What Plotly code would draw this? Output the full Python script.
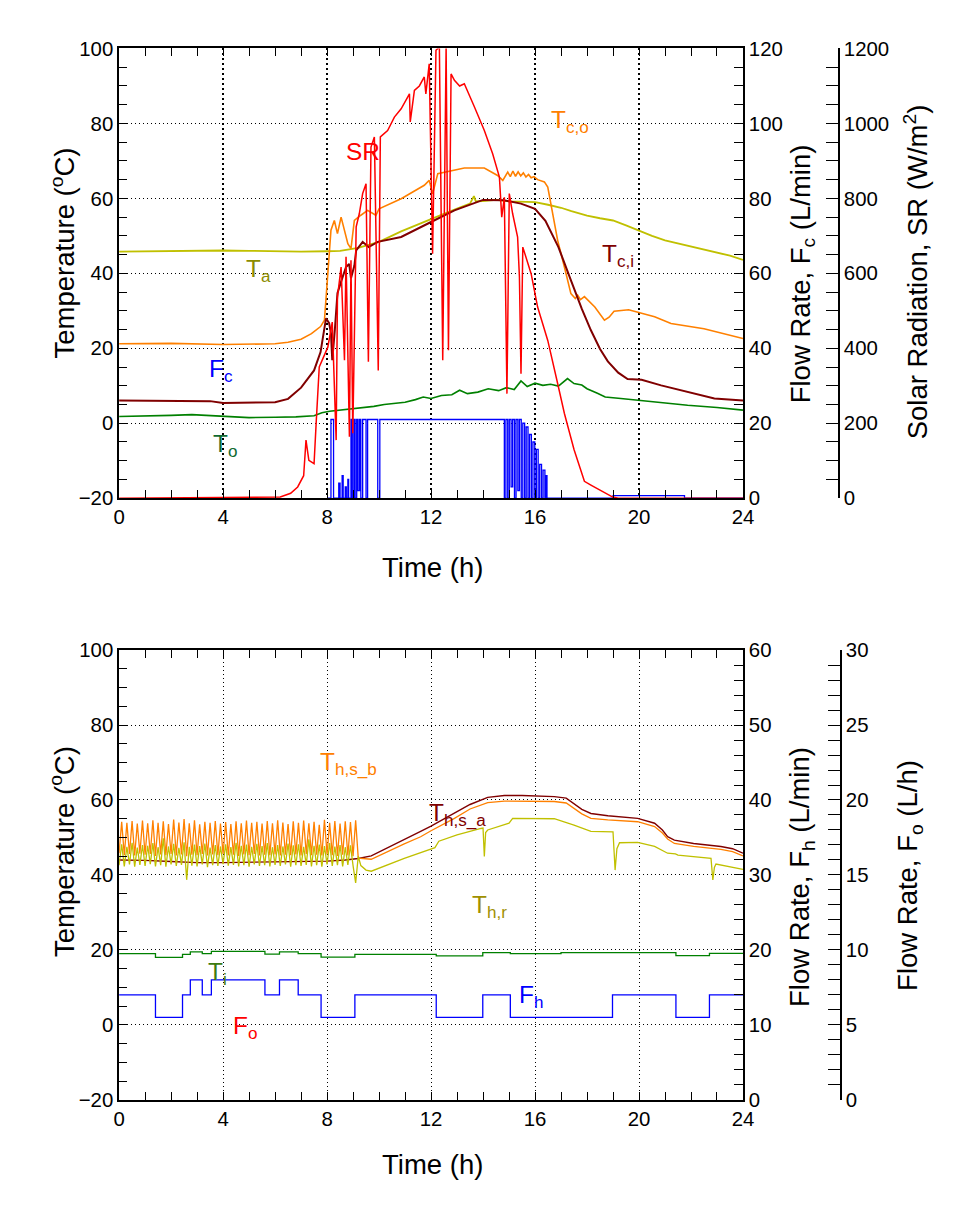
import plotly.graph_objects as go

# ---------------- DATA ----------------
# Top panel: collector side
t_Ta = [0, 1, 2, 3, 4, 5, 6, 7, 8, 8.5, 9.2, 10, 10.85, 11.6, 12, 12.4, 13, 13.2, 13.5, 13.65, 13.72, 14, 14.5,
        15, 15.5, 16, 16.5, 17, 17.4, 18, 18.5, 19, 19.5, 20, 20.5, 21, 21.5, 22, 22.5, 23, 23.5, 24]
v_Ta = [45.8, 45.9, 46.0, 46.2, 46.1, 46.0, 45.9, 45.8, 45.9, 46.0, 46.8, 48.4, 51.2, 53.4, 54.6, 55.6, 57.3, 57.9, 58.6,
        60.6, 59.2, 59.3, 59.6, 59.2, 59.0, 59.0, 58.3, 57.5, 56.6, 55.4, 54.7, 54.1, 52.8, 51.3, 50.0, 48.8, 48.0,
        47.2, 46.5, 45.6, 44.7, 43.6]

t_Tco = [0, 2, 4, 5, 6, 6.5, 7.0, 7.4, 7.75, 7.9, 8.03, 8.15, 8.28, 8.4, 8.54, 8.64, 8.8, 8.92, 9.05, 9.3, 9.56, 9.88,
         10.0, 10.85, 11.74, 11.93, 12.06, 12.26, 12.8, 13.28, 14.05, 14.56, 14.76, 14.95, 15.05, 15.15, 15.25, 15.35,
         15.45, 15.55, 15.65, 15.75, 15.85, 15.96, 16.1, 16.36, 16.49, 16.68, 16.87, 17.13, 17.38, 17.55, 17.64, 17.75,
         17.9, 18.3, 18.67, 18.85, 19.04, 19.6, 20.0, 20.6, 21.23, 22.5, 24]
v_Tco = [21.2, 21.3, 21.0, 21.0, 21.2, 21.6, 22.4, 23.9, 25.8, 27.5, 39.9, 51.5, 54.1, 50.6, 55.0, 52.4, 47.9, 46.6, 54.1,
         55.5, 56.8, 55.5, 57.2, 59.9, 63.5, 64.8, 61.2, 66.6, 67.5, 68.1, 68.1, 66.1, 64.8, 67.0, 65.8, 67.3, 65.9, 67.1,
         66.0, 66.8, 65.7, 66.4, 65.5, 65.8, 65.0, 64.4, 63.0, 55.9, 48.8, 41.7, 34.6, 33.3, 34.2, 33.0, 33.8, 31.0, 27.5,
         28.3, 29.9, 30.3, 29.6, 28.4, 26.6, 25.2, 22.6]

t_Tci = [0, 2, 3.5, 4, 5, 6, 6.5, 7.0, 7.5, 7.75, 7.96, 8.08, 8.15, 8.2, 8.3, 8.4, 8.55, 8.73, 8.85, 8.92, 9.05, 9.12,
         9.37, 9.6, 9.95, 10.85, 12.0, 12.9, 14.0, 14.8, 15.46, 16.0, 16.4, 16.9, 17.4, 17.8, 18.15, 18.5, 18.8, 19.2,
         19.56, 20.1, 20.85, 21.87, 22.9, 24]
v_Tci = [6.1, 6.1, 5.9, 5.4, 5.5, 5.6, 6.5, 9.5, 14.1, 19.0, 28.0, 26.7, 24.0, 16.8, 25.0, 34.7, 38.0, 41.7, 42.5, 38.7,
         42.0, 46.1, 48.4, 47.0, 48.4, 49.7, 53.7, 56.8, 59.6, 59.5, 58.6, 57.2, 54.0, 47.0, 37.8, 30.5, 24.8, 19.8,
         16.5, 13.5, 11.8, 11.6, 10.1, 8.4, 6.6, 6.1]

t_To = [0, 1, 2, 2.8, 3.5, 4, 5, 6, 6.8, 7.5, 7.8, 8.1, 8.5, 9.0, 9.4, 9.8, 10.2, 10.6, 11.0, 11.4, 11.7, 12.0, 12.4,
        12.8, 13.1, 13.4, 13.8, 14.2, 14.6, 14.9, 15.2, 15.46, 15.7, 16.0, 16.3, 16.6, 16.9, 17.25, 17.5, 17.8, 18.0,
        18.4, 18.7, 19.3, 19.95, 21.0, 21.87, 23.0, 24]
v_To = [1.8, 1.9, 2.1, 2.3, 2.0, 1.8, 1.5, 1.6, 1.7, 2.0, 2.8, 3.2, 3.5, 3.9, 4.3, 4.5, 5.0, 5.4, 5.6, 6.3, 7.0, 6.6, 7.4,
        7.6, 8.8, 7.9, 8.3, 9.2, 8.7, 9.5, 9.0, 11.3, 9.8, 10.7, 10.1, 10.4, 9.9, 11.9, 10.6, 10.2, 9.2, 8.0, 7.0, 6.6,
        6.1, 5.4, 4.8, 4.2, 3.5]

t_SR = [0, 6.2, 6.6, 6.87, 7.1, 7.19, 7.3, 7.5, 7.58, 7.7, 8.03, 8.2, 8.35, 8.4, 8.54, 8.67, 8.73, 8.86, 8.92, 8.99,
        9.12, 9.24, 9.37, 9.5, 9.59, 9.69, 9.82, 9.97, 10.05, 10.33, 10.59, 10.85, 11.17, 11.2, 11.36, 11.55, 11.74,
        11.8, 11.93, 12.06, 12.19, 12.26, 12.32, 12.45, 12.58, 12.67, 12.77, 12.9, 13.1, 13.28, 13.67, 14.05, 14.37,
        14.63, 14.72, 14.82, 14.92, 15.01, 15.14, 15.33, 15.4, 15.46, 15.53, 15.85, 16.1, 16.49, 16.87, 17.13, 17.5,
        17.77, 17.9, 18.15, 18.54, 18.99, 19.2, 24]
v_SR = [0, 3, 13, 30, 60, 155, 101, 92, 199, 350, 403, 470, 155, 537, 617, 368, 644, 164, 635, 173,
        724, 759, 813, 839, 364, 937, 964, 341, 964, 981, 1017, 1039, 1079, 1004, 1088, 1100, 1124,
        1079, 1159, 652, 1195, 1200, 1210, 368, 1205, 395, 1132, 1115, 1100, 1106, 1044, 981, 919,
        857, 750, 803, 279, 813, 759, 697, 590, 332, 670, 599, 510, 421, 306, 226, 130,
        75, 45, 35, 21, 3, 0, 0]

# collector flow rate F_c (L/min), step changes
t_Fc = [8.0, 8.15, 8.25, 8.45, 8.5, 8.58, 8.62, 8.7, 8.74, 8.8, 8.83, 8.92, 8.97, 9.03, 9.08, 9.14, 9.19,
        9.25, 9.3, 9.37, 9.5, 9.56, 9.95, 10.03,
        14.82, 14.88, 14.95, 15.01, 15.08, 15.14, 15.21, 15.27, 15.34, 15.4, 15.47, 15.53, 15.6, 15.66, 15.73, 15.79,
        15.86, 15.92, 15.99, 16.05, 16.12, 16.18, 16.25, 16.31, 16.38, 16.42, 16.46, 19.0, 21.75, 24]
v_Fc = [0, 21, 0, 4, 0, 6, 0, 3, 0, 5, 0, 21, 0, 21, 0, 21, 2,
        21, 0, 21, 0, 21, 0, 21,
        0, 21, 0, 21, 3, 21, 0, 21, 2, 21, 0, 20, 0, 19, 0, 17,
        0, 15, 0, 13, 0, 9, 0, 7.5, 0, 6, 0, 0.7, 0, 0]

# Bottom panel: hot water side
t_hsb = [0.0, 0.1, 0.2, 0.3, 0.4, 0.5, 0.6, 0.7, 0.8, 0.9, 1.0, 1.1, 1.2, 1.3, 1.4, 1.5, 1.6, 1.7, 1.8, 1.9,
         2.0, 2.1, 2.2, 2.3, 2.4, 2.5, 2.6, 2.7, 2.8, 2.9, 3.0, 3.1, 3.2, 3.3, 3.4, 3.5, 3.6, 3.7, 3.8, 3.9,
         4.0, 4.1, 4.2, 4.3, 4.4, 4.5, 4.6, 4.7, 4.8, 4.9, 5.0, 5.1, 5.2, 5.3, 5.4, 5.5, 5.6, 5.7, 5.8, 5.9,
         6.0, 6.1, 6.2, 6.3, 6.4, 6.5, 6.6, 6.7, 6.8, 6.9, 7.0, 7.1, 7.2, 7.3, 7.4, 7.5, 7.6, 7.7, 7.8, 7.9,
         8.0, 8.1, 8.2, 8.3, 8.4, 8.5, 8.6, 8.7, 8.8, 8.9, 9.0, 9.1,
         9.2, 9.7, 10.97, 11.6, 12.0, 12.9, 13.5, 14.18, 14.82, 15.5, 16.74, 17.2, 17.5, 17.8, 18.15, 18.8,
         19.95, 20.6, 20.9, 21.1, 21.36, 22.1, 23.15, 23.6, 24]
v_hsb = [45.8, 54.2, 45.3, 53.9, 45.6, 54.4, 45.2, 53.7, 45.7, 54.5, 45.4, 53.8, 45.6, 54.6, 45.1, 53.9, 45.5, 54.3, 45.3, 53.6,
         45.6, 54.8, 45.2, 54.0, 45.5, 54.9, 45.0, 53.8, 45.4, 54.6, 45.3, 53.5, 45.6, 54.2, 45.2, 53.9, 45.5, 54.4, 45.3, 53.7,
         45.6, 54.1, 45.2, 53.6, 45.4, 54.3, 45.1, 53.8, 45.5, 54.5, 45.3, 53.9, 45.6, 54.2, 45.2, 53.7, 45.4, 54.4, 45.3, 53.8,
         45.5, 54.6, 45.2, 54.0, 45.4, 53.6, 45.3, 54.3, 45.5, 53.9, 45.2, 54.5, 45.6, 53.8, 45.3, 54.2, 45.4, 53.4, 45.2, 54.7,
         45.5, 53.9, 45.3, 54.4, 45.1, 53.7, 45.4, 54.3, 45.2, 54.1, 45.0, 54.6,
         44.5, 44.2, 48.3, 50.2, 51.8, 55.1, 57.6, 59.3, 59.7, 59.7, 59.6, 59.2, 57.8, 56.3, 55.1, 54.7,
         54.2, 52.9, 51.2, 49.6, 48.4, 47.6, 46.8, 46.2, 45.1]

t_hsa = [0, 1, 2, 3, 4, 5, 6, 7, 8, 8.7, 9.2, 9.7, 10.97, 11.6, 12.0, 12.9, 13.5, 14.18, 14.82, 15.5, 16.74, 17.2,
         17.5, 17.8, 18.15, 18.8, 19.95, 20.6, 20.9, 21.1, 21.36, 22.1, 23.15, 23.6, 24]
v_hsa = [44.0, 43.9, 43.6, 43.3, 43.3, 43.4, 43.5, 43.6, 43.7, 44.0, 44.4, 45.1, 49.3, 51.6, 53.0, 56.4, 58.8, 60.7,
         61.2, 61.2, 60.9, 60.5, 59.1, 57.5, 56.4, 55.8, 55.1, 53.8, 52.0, 50.2, 49.3, 48.4, 47.6, 47.0, 45.8]

t_hr = [0.0, 0.1, 0.2, 0.3, 0.4, 0.5, 0.6, 0.7, 0.8, 0.9, 1.0, 1.1, 1.2, 1.3, 1.4, 1.5, 1.6, 1.7, 1.8, 1.9,
        2.0, 2.1, 2.2, 2.3, 2.4, 2.5, 2.6, 2.7, 2.8, 2.9, 3.0, 3.1, 3.2, 3.3, 3.4, 3.5, 3.6, 3.7, 3.8, 3.9,
        4.0, 4.1, 4.2, 4.3, 4.4, 4.5, 4.6, 4.7, 4.8, 4.9, 5.0, 5.1, 5.2, 5.3, 5.4, 5.5, 5.6, 5.7, 5.8, 5.9,
        6.0, 6.1, 6.2, 6.3, 6.4, 6.5, 6.6, 6.7, 6.8, 6.9, 7.0, 7.1, 7.2, 7.3, 7.4, 7.5, 7.6, 7.7, 7.8, 7.9,
        8.0, 8.1, 8.2, 8.3, 8.4, 8.5, 8.6, 8.7, 8.8, 8.9, 9.0, 9.1,
        9.2, 9.3, 9.5, 9.7, 10.97, 11.6, 12.15, 12.3, 13.0, 13.92, 14.0, 14.05, 14.1, 14.18, 14.9, 15.0, 15.14,
        16.74, 17.5, 18.15, 19.0, 19.08, 19.15, 19.25, 19.95, 20.6, 21.1, 21.4, 21.5, 22.77, 22.84, 22.9, 22.96, 24]
v_hr = [42.6, 48.2, 42.3, 47.5, 42.8, 48.6, 42.2, 47.3, 42.7, 48.0, 42.4, 47.8, 42.9, 48.5, 42.3, 47.4, 42.6, 49.8, 42.2, 47.6,
        42.8, 48.3, 42.4, 47.2, 42.7, 48.7, 38.7, 47.5, 42.5, 48.1, 42.3, 47.7, 42.8, 48.4, 42.1, 47.3, 42.6, 48.0, 42.4, 47.6,
        42.9, 48.2, 42.5, 47.4, 42.7, 48.6, 42.3, 47.8, 42.6, 48.1, 42.2, 47.5, 42.8, 48.3, 42.4, 47.7, 42.6, 48.5, 42.3, 47.4,
        42.7, 48.0, 42.4, 47.6, 42.8, 48.4, 42.2, 47.9, 42.6, 48.2, 42.4, 47.5, 42.7, 49.5, 42.3, 47.8, 42.6, 48.1, 42.2, 47.7,
        42.8, 48.5, 42.4, 47.6, 42.6, 48.0, 42.3, 47.4, 42.7, 47.9, 42.5, 37.9,
        45.0, 42.5, 41.3, 41.0, 44.4, 46.0, 47.3, 49.0, 50.7, 52.4, 52.5, 44.9, 51.3, 52.0, 53.5, 53.8, 55.1,
        55.0, 53.3, 51.6, 51.5, 41.3, 47.0, 48.6, 48.7, 47.6, 45.8, 45.6, 45.3, 44.4, 38.7, 42.0, 42.9, 41.5]

# step series (value holds until next time)
t_step = [0, 1.40, 2.44, 2.74, 3.20, 3.55, 5.61, 6.17, 6.89, 7.77, 9.07, 12.20, 13.99, 15.05, 17.0, 18.98, 21.42, 22.71, 24]
v_Ti = [19.0, 18.0, 18.8, 19.5, 19.0, 19.6, 18.9, 19.5, 19.0, 18.1, 18.8, 18.4, 19.3, 19.0, 19.3, 19.3, 18.5, 19.1, 19.1]
v_Fh = [14, 11, 14, 16, 14, 16, 14, 16, 14, 11, 14, 11, 14, 11, 11, 14, 11, 14, 14]
# F_o has its own axis (0-30 L/h); no separate line is visible in the reference
t_Fo = []
v_Fo = []

# ---------------- LAYOUT HELPERS ----------------
W, H = 937, 1181
SC = 0.982            # measured page-to-picture scale
CX, CY = 12.9, 18.5   # measured picture offset


def px(x):
    return (x - CX) / SC / W


def py(y):
    return 1 - (y - CY) / SC / H


def fs(s):
    return round(s / SC, 1)


FONT = "Liberation Sans, Arial, sans-serif"
tickfont = dict(family=FONT, size=fs(20), color="black")

C_OR = "#FF8000"
C_MR = "#800000"
C_OL = "#C0C000"
C_GR = "#008000"
C_BL = "#0000FF"
C_RD = "#FF0000"

fig = go.Figure()

# top panel traces
fig.add_trace(go.Scatter(x=t_Ta, y=v_Ta, mode="lines", line=dict(color=C_OL, width=1.8), xaxis="x", yaxis="y"))
fig.add_trace(go.Scatter(x=t_To, y=v_To, mode="lines", line=dict(color=C_GR, width=1.6), xaxis="x", yaxis="y"))
fig.add_trace(go.Scatter(x=t_Tco, y=v_Tco, mode="lines", line=dict(color=C_OR, width=1.6), xaxis="x", yaxis="y"))
fig.add_trace(go.Scatter(x=t_Tci, y=v_Tci, mode="lines", line=dict(color=C_MR, width=2), xaxis="x", yaxis="y"))
fig.add_trace(go.Scatter(x=t_Fc, y=v_Fc, mode="lines", line=dict(color=C_BL, width=1.3, shape="hv"),
                         xaxis="x", yaxis="y2"))
fig.add_trace(go.Scatter(x=t_SR, y=v_SR, mode="lines", line=dict(color=C_RD, width=1.5), xaxis="x", yaxis="y3"))

# bottom panel traces
fig.add_trace(go.Scatter(x=t_hsa, y=v_hsa, mode="lines", line=dict(color=C_MR, width=1.4), xaxis="x2", yaxis="y4"))
fig.add_trace(go.Scatter(x=t_hsb, y=v_hsb, mode="lines", line=dict(color=C_OR, width=1.3), xaxis="x2", yaxis="y4"))
fig.add_trace(go.Scatter(x=t_hr, y=v_hr, mode="lines", line=dict(color=C_OL, width=1.3), xaxis="x2", yaxis="y4"))
fig.add_trace(go.Scatter(x=t_step, y=v_Ti, mode="lines", line=dict(color=C_GR, width=1.3, shape="hv"),
                         xaxis="x2", yaxis="y4"))
fig.add_trace(go.Scatter(x=t_step, y=v_Fh, mode="lines", line=dict(color=C_BL, width=1.3, shape="hv"),
                         xaxis="x2", yaxis="y5"))
fig.add_trace(go.Scatter(x=t_Fo, y=v_Fo, mode="lines", line=dict(color=C_RD, width=1.3),
                         xaxis="x2", yaxis="y6", hoverinfo="skip"))

dom_x = [px(118), px(742)]
dom_top = [py(498), py(48)]
dom_bot = [py(1100), py(650)]


def xax(anchor, vgrid_w, vgrid_dash):
    return dict(domain=dom_x, anchor=anchor, range=[0, 24], tick0=0, dtick=4, ticks="inside", ticklen=8,
                tickwidth=1, tickcolor="black", tickfont=tickfont,
                minor=dict(dtick=1, tick0=0, ticks="inside", ticklen=8, tickcolor="black", showgrid=False),
                showline=True, linecolor="black", linewidth=1.5, mirror="ticks",
                showgrid=True, gridcolor="black", gridwidth=vgrid_w, griddash=vgrid_dash, zeroline=False)


def ytemp(domain, anchor):
    return dict(domain=domain, anchor=anchor, range=[-20, 100], tick0=0, dtick=20, ticks="inside", ticklen=8,
                tickwidth=1, tickcolor="black", tickfont=tickfont,
                minor=dict(dtick=5, tick0=0, ticks="inside", ticklen=8, tickcolor="black", showgrid=False),
                showline=True, linecolor="black", linewidth=1.5, mirror=True,
                showgrid=True, gridcolor="black", gridwidth=1, griddash="1px,3px", zeroline=False)


def yright(over, anchor, rng, dt, mdt, ticklen, free_pos=None):
    d = dict(overlaying=over, side="right", range=rng, tick0=0, dtick=dt, ticks="inside", ticklen=ticklen,
             tickwidth=1, tickcolor="black", tickfont=tickfont,
             minor=dict(dtick=mdt, tick0=0, ticks="inside", ticklen=ticklen, tickcolor="black", showgrid=False),
             showline=True, linecolor="black", linewidth=1.5, showgrid=False, zeroline=False)
    if free_pos is None:
        d["anchor"] = anchor
    else:
        d["anchor"] = "free"
        d["position"] = free_pos
    return d


fig.update_layout(
    width=W, height=H, autosize=False,
    margin=dict(l=0, r=0, t=0, b=0, pad=0),
    paper_bgcolor="white", plot_bgcolor="white", showlegend=False,
    font=dict(family=FONT, color="black"),
    xaxis=xax("y", 2, "2px,3px"),
    yaxis=ytemp(dom_top, "x"),
    yaxis2=yright("y", "x", [0, 120], 20, 5, 9),
    yaxis3=yright("y", None, [0, 1200], 200, 50, 12, free_pos=px(838)),
    xaxis2=xax("y4", 1, "1px,3px"),
    yaxis4=ytemp(dom_bot, "x2"),
    yaxis5=yright("y4", "x2", [0, 60], 10, 2, 9),
    yaxis6=yright("y4", None, [0, 30], 5, 1, 12, free_pos=px(840)),
)

anns = []


def add_text(text, x, y, color, size=24, angle=0):
    anns.append(dict(text=text, x=px(x), y=py(y), xref="paper", yref="paper", xanchor="center", yanchor="middle",
                     showarrow=False, textangle=angle, font=dict(family=FONT, size=fs(size), color=color)))


# axis titles
add_text("Temperature (<sup>o</sup>C)", 62, 253, "black", 27, -90)
add_text("Flow Rate, F<sub>c</sub> (L/min)", 801, 273, "black", 27, -90)
add_text("Solar Radiation, SR (W/m<sup>2</sup>)", 915, 271, "black", 27, -90)
add_text("Time (h)", 431, 567, "black", 27)
add_text("Temperature (<sup>o</sup>C)", 62, 852, "black", 27, -90)
add_text("Flow Rate, F<sub>h</sub> (L/min)", 801, 877, "black", 27, -90)
add_text("Flow Rate, F<sub>o</sub> (L/h)", 909, 875, "black", 27, -90)
add_text("Time (h)", 431, 1165, "black", 27)

# series labels
add_text("SR", 362, 151, C_RD)
add_text("T<sub>c,o</sub>", 569, 121, C_OR)
add_text("T<sub>c,i</sub>", 617, 255, C_MR)
add_text("T<sub>a</sub>", 257, 270, "#8C8C00")
add_text("F<sub>c</sub>", 220, 370, C_BL)
add_text("T<sub>o</sub>", 224, 445, "#106A30")
add_text("T<sub>h,s_b</sub>", 347, 763, C_OR)
add_text("T<sub>h,s_a</sub>", 456, 815, C_MR)
add_text("T<sub>h,r</sub>", 488, 907, "#A09000")
add_text("T<sub>i</sub>", 216, 974, "#3C7A10")
add_text("F<sub>o</sub>", 244, 1028, C_RD)
add_text("F<sub>h</sub>", 530, 997, C_BL)

fig.update_layout(annotations=anns)

fig.write_html("out.html")
